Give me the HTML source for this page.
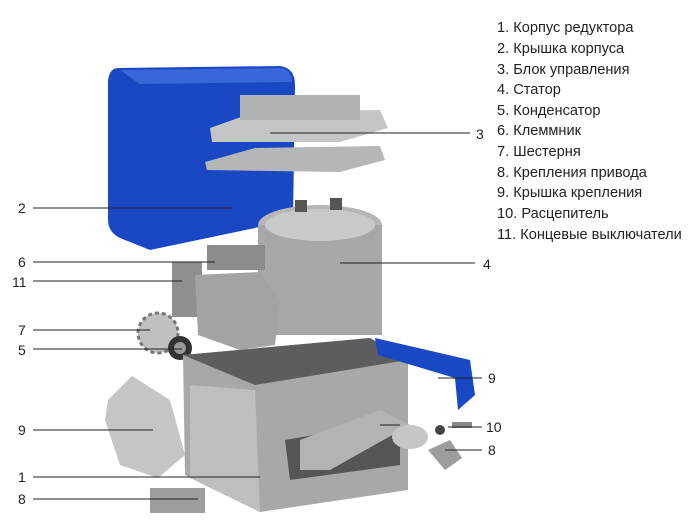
<!DOCTYPE html><html><head><style>body{margin:0;background:#fff}svg{display:block}</style></head><body>
<svg width="698" height="525" viewBox="0 0 698 525" xmlns="http://www.w3.org/2000/svg" font-family="Liberation Sans, DejaVu Sans, sans-serif">
<path d="M118 68 L280 66 Q295 68 295 85 L293 220 L150 250 L120 238 Q108 232 108 220 L108 80 Q110 68 118 68Z" fill="#1a47c4"/>
<path d="M120 70 L280 68 Q292 70 292 82 L140 84Z" fill="#3a66dc"/>
<path d="M210 128 L255 112 L380 110 L388 128 L340 142 L212 142Z" fill="#c4c5c7"/>
<rect x="240" y="95" width="120" height="25" fill="#b0b1b3"/>
<path d="M205 162 L255 148 L380 146 L385 160 L340 172 L207 170Z" fill="#b5b6b8"/>
<ellipse cx="320" cy="225" rx="62" ry="20" fill="#b5b6b8"/>
<rect x="258" y="225" width="124" height="110" fill="#a6a7aa"/>
<ellipse cx="320" cy="225" rx="55" ry="16" fill="#c8c9cb"/>
<rect x="295" y="200" width="12" height="12" fill="#555"/><rect x="330" y="198" width="12" height="12" fill="#555"/>
<rect x="207" y="245" width="58" height="25" fill="#8a8b8d"/>
<rect x="172" y="262" width="30" height="55" fill="#8e8f91"/>
<path d="M195 275 L260 272 L280 300 L275 345 L240 350 L198 335Z" fill="#a2a3a5"/>
<circle cx="158" cy="333" r="20" fill="#bfc0c2" stroke="#777" stroke-width="3" stroke-dasharray="4 3"/>
<circle cx="180" cy="348" r="12" fill="#333"/><circle cx="180" cy="348" r="6" fill="#999"/>
<path d="M183 355 L370 338 L408 360 L408 490 L260 512 L185 475Z" fill="#a7a8aa"/>
<path d="M183 355 L370 338 L408 360 L255 385Z" fill="#5c5d5f"/>
<path d="M190 385 L255 390 L260 512 L190 478Z" fill="#bdbec0"/>
<path d="M285 440 L400 420 L400 465 L290 480Z" fill="#555"/>
<path d="M300 440 L380 410 L410 425 L330 470 L300 470Z" fill="#b2b3b5"/>
<ellipse cx="410" cy="437" rx="18" ry="12" fill="#c5c6c8"/>
<path d="M375 338 L470 360 L475 395 L458 410 L455 378 L378 355Z" fill="#1a47c4"/>
<path d="M108 400 L132 376 L170 400 L185 455 L158 478 L120 465 L105 420Z" fill="#c4c5c7"/>
<rect x="150" y="488" width="55" height="25" fill="#9c9d9f"/>
<path d="M428 450 L450 440 L462 458 L445 470Z" fill="#9c9d9f"/>
<circle cx="440" cy="430" r="5" fill="#444"/><rect x="452" y="422" width="20" height="6" fill="#888"/>
<g stroke="#222" stroke-width="1">
<line x1="33" y1="208" x2="232" y2="208"/><line x1="270" y1="133" x2="470" y2="133"/>
<line x1="340" y1="263" x2="475" y2="263"/><line x1="33" y1="262" x2="215" y2="262"/>
<line x1="33" y1="281" x2="182" y2="281"/><line x1="33" y1="330" x2="150" y2="330"/>
<line x1="33" y1="349" x2="182" y2="349"/><line x1="33" y1="430" x2="153" y2="430"/>
<line x1="33" y1="477" x2="260" y2="477"/><line x1="33" y1="499" x2="198" y2="499"/>
<line x1="438" y1="378" x2="482" y2="378"/><line x1="448" y1="427" x2="482" y2="427"/>
<line x1="445" y1="450" x2="482" y2="450"/><line x1="380" y1="425" x2="400" y2="425"/>
</g>
<g font-size="14" fill="#222">
<text x="18" y="213">2</text><text x="476" y="139">3</text><text x="483" y="269">4</text>
<text x="18" y="267">6</text><text x="12" y="287">11</text><text x="18" y="335">7</text>
<text x="18" y="355">5</text><text x="18" y="435">9</text><text x="18" y="482">1</text>
<text x="18" y="504">8</text><text x="488" y="383">9</text><text x="486" y="432">10</text>
<text x="488" y="455">8</text>
</g>
<g font-size="14.6" fill="#222">
<text x="497" y="32">1. Корпус редуктора</text>
<text x="497" y="53">2. Крышка корпуса</text>
<text x="497" y="74">3. Блок управления</text>
<text x="497" y="94">4. Статор</text>
<text x="497" y="115">5. Конденсатор</text>
<text x="497" y="135">6. Клеммник</text>
<text x="497" y="156">7. Шестерня</text>
<text x="497" y="177">8. Крепления привода</text>
<text x="497" y="197">9. Крышка крепления</text>
<text x="497" y="218">10. Расцепитель</text>
<text x="497" y="239">11. Концевые выключатели</text>
</g>
</svg></body></html>
